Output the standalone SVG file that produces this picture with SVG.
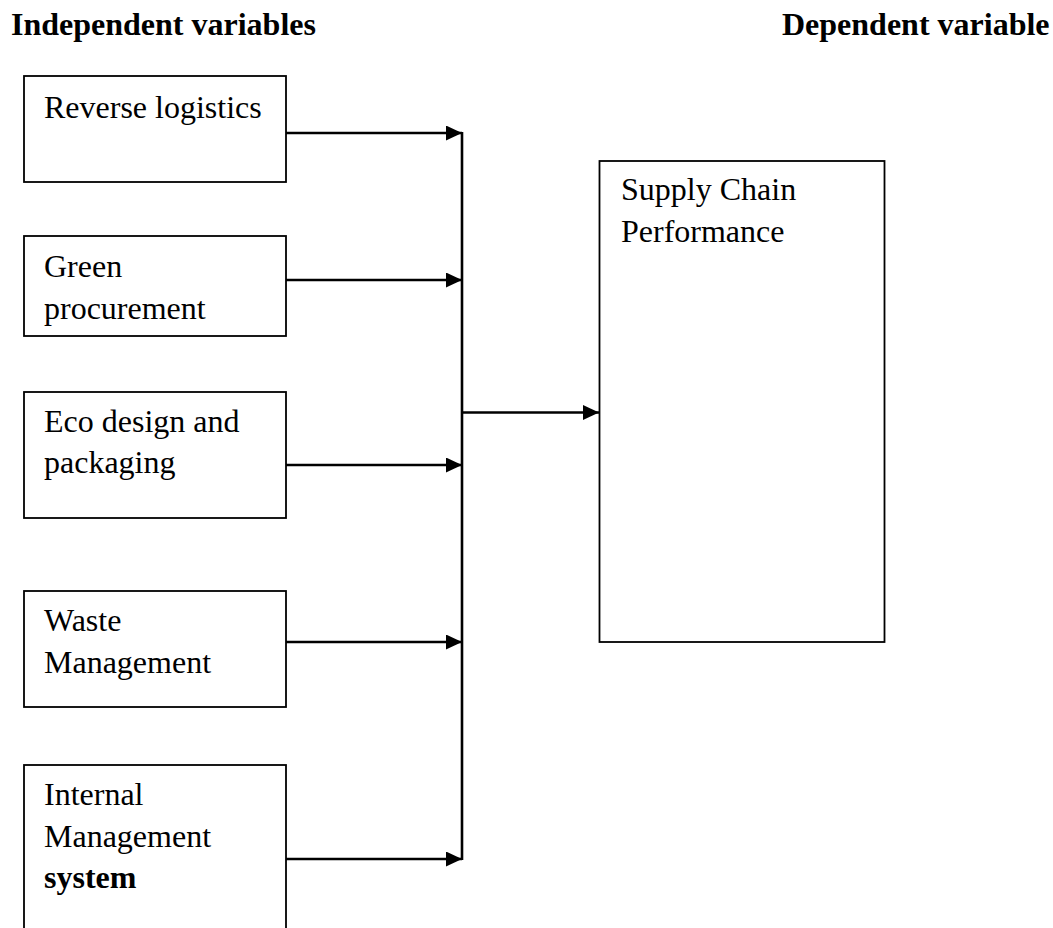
<svg xmlns="http://www.w3.org/2000/svg" width="1053" height="928" viewBox="0 0 1053 928">
<defs>
<style>
.box{fill:#fff;stroke:#000;stroke-width:1.8}
.t{font-family:"Liberation Serif","Times New Roman",serif;font-size:32px;fill:#000}
.b{font-weight:bold}
.c{stroke:#000;stroke-width:2.6;fill:none}
</style>
<marker id="ah" markerUnits="userSpaceOnUse" markerWidth="17" markerHeight="16" refX="16" refY="7.5" orient="auto">
<path d="M0,0 L16,7.5 L0,15 Z" fill="#000"/>
</marker>
</defs>
<rect width="1053" height="928" fill="#fff"/>
<g id="titles">
<text class="t b" x="11" y="35">Independent variables</text>
<text class="t b" x="782" y="35">Dependent variable</text>
</g>
<g id="n1">
<rect class="box" x="24" y="76" width="262" height="106"/>
<text class="t" x="44" y="118">Reverse logistics</text>
</g>
<g id="n2">
<rect class="box" x="24" y="236" width="262" height="100"/>
<text class="t" x="44" y="277">Green</text>
<text class="t" x="44" y="319">procurement</text>
</g>
<g id="n3">
<rect class="box" x="24" y="392" width="262" height="126"/>
<text class="t" x="44" y="432">Eco design and</text>
<text class="t" x="44" y="473">packaging</text>
</g>
<g id="n4">
<rect class="box" x="24" y="591" width="262" height="116"/>
<text class="t" x="44" y="631">Waste</text>
<text class="t" x="44" y="673">Management</text>
</g>
<g id="n5">
<rect class="box" x="24" y="765" width="262" height="180"/>
<text class="t" x="44" y="805">Internal</text>
<text class="t" x="44" y="847">Management</text>
<text class="t b" x="44" y="888">system</text>
</g>
<g id="n6">
<rect class="box" x="599.5" y="161" width="285" height="481"/>
<text class="t" x="621" y="200">Supply Chain</text>
<text class="t" x="621" y="242">Performance</text>
</g>
<g id="connectors">
<line class="c" x1="462" y1="132" x2="462" y2="860"/>
<line class="c" x1="286" y1="133" x2="462" y2="133" marker-end="url(#ah)"/>
<line class="c" x1="286" y1="280" x2="462" y2="280" marker-end="url(#ah)"/>
<line class="c" x1="286" y1="465" x2="462" y2="465" marker-end="url(#ah)"/>
<line class="c" x1="286" y1="642" x2="462" y2="642" marker-end="url(#ah)"/>
<line class="c" x1="286" y1="859" x2="462" y2="859" marker-end="url(#ah)"/>
<line class="c" x1="462" y1="412.5" x2="599" y2="412.5" marker-end="url(#ah)"/>
</g>
</svg>
